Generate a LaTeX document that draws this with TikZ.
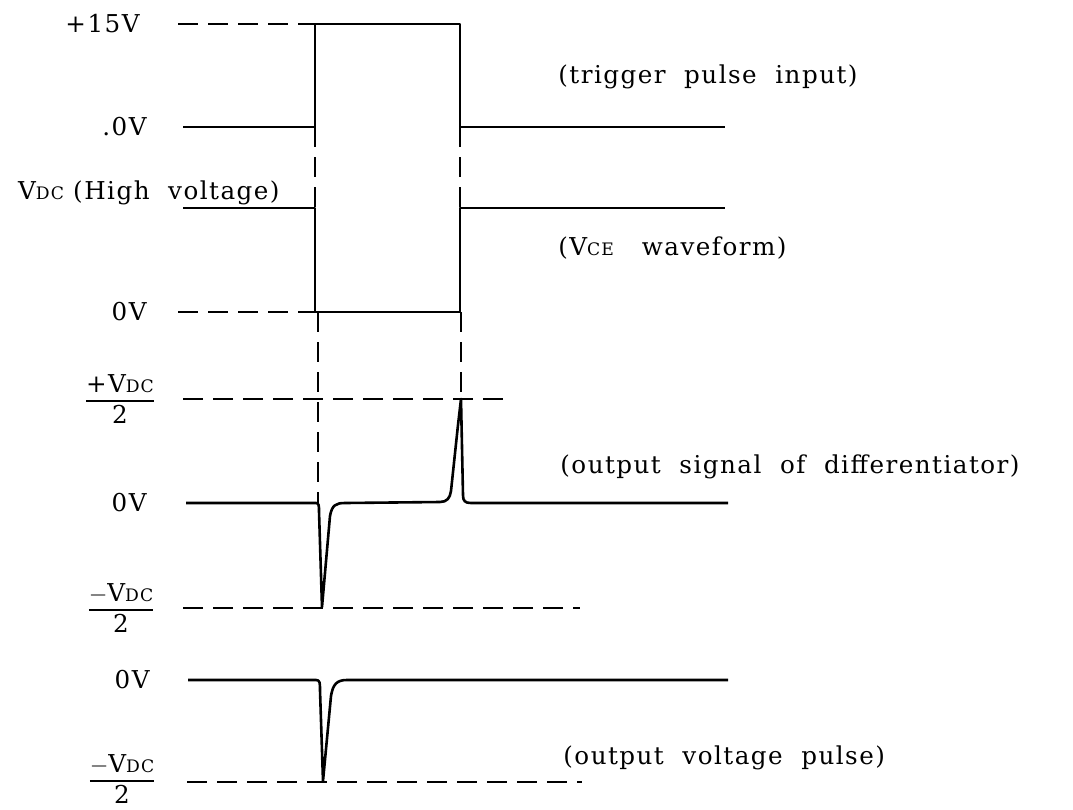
\documentclass[tikz,border=0pt]{standalone}
\usepackage{amsmath}
\usepackage{fontspec}
\setmainfont{DejaVu Serif}[LetterSpace=6]
\usepackage{tikz}
\usetikzlibrary{positioning}
\newcommand{\smallcap}[1]{{\fontsize{8.6}{10}\selectfont #1}}
\newcommand{\Vdc}{V\smallcap{DC}}
\newcommand{\halflevel}[1]{$\genfrac{}{}{1.1pt}{1}{\mbox{#1\Vdc\rule[-2.5pt]{0pt}{1pt}}}{\mbox{\rule{0pt}{9.5pt}2}}$}

\begin{document}
\begin{tikzpicture}[x=0.5pt, y=-0.5pt, wave/.style={line width=1.3pt, line join=round}, guide/.style={line width=0.9pt, dash pattern=on 10pt off 5pt}, level/.style={anchor=east, inner sep=0pt, font=\fontsize{12.3}{14}\selectfont}, half/.style={inner sep=0pt, font=\fontsize{12.3}{14}\selectfont}, caption/.style={anchor=west, inner sep=0pt, font=\fontsize{12.3}{14}\selectfont}]
\useasboundingbox (0,0) rectangle (1073,810);
% level labels
\node[level] (p15) at (140,24) {+15V};
\node[level] (z1) at (147,127) {.0V};
\node[level] (vdc) at (280,193) {\Vdc\ (High\ \ voltage)};
\node[level] (z2) at (147,312) {0V};
\node[half] (hp) at (120,399) {\halflevel{+}};
\node[level] (z3) at (147,503) {0V};
\node[half] (hm) at (121,608) {\halflevel{$-$}};
\node[level] (z4) at (150,680) {0V};
\node[half] (om) at (122,779) {\halflevel{$-$}};
% captions
\node[caption] (trig) at (558,77) {(trigger\ \ pulse\ \ input)};
\node[caption] (vce) at (558,248) {(V\smallcap{CE}\ \ \ waveform)};
\node[caption] (diff) at (560,467) {(output\ \ signal\ \ of\ \ differentiator)};
\node[caption] (outp) at (563,758) {(output\ \ voltage\ \ pulse)};
% dashed guides
\draw[guide] (178,24) -- (315,24);
\draw[guide] (178,312) -- (315,312);
\draw[guide] (315,127) -- (315,208);
\draw[guide] (460,127) -- (460,208);
\draw[guide] (318,312) -- (318,503);
\draw[guide] (461,312) -- (461,399);
\draw[guide] (183,399) -- (512,399);
\draw[guide] (183,608) -- (580,608);
\draw[guide] (187,782) -- (582,782);
% trigger pulse
\draw[wave] (183,127) -- (315,127) -- (315,24) -- (460,24) -- (460,127) -- (725,127);
% collector-emitter voltage
\draw[wave] (183,208) -- (315,208) -- (315,312) -- (460,312) -- (460,208) -- (725,208);
% differentiator output
\draw[wave] (186,503) -- (316,503) .. controls (319,503) and (319,506) .. (319,511) -- (322,607) -- (330,516) .. controls (332,505) and (336,503) .. (345,503) -- (440,502) .. controls (447,502) and (450,498) .. (451,491) -- (458,425) -- (461,399) -- (463,495) .. controls (463,501) and (465,503) .. (471,503) -- (728,503);
% output pulse
\draw[wave] (188,680) -- (316,680) .. controls (320,680) and (320,683) .. (320,690) -- (323,781) -- (331,696) .. controls (333,684) and (337,680) .. (347,680) -- (728,680);
\end{tikzpicture}
\end{document}
